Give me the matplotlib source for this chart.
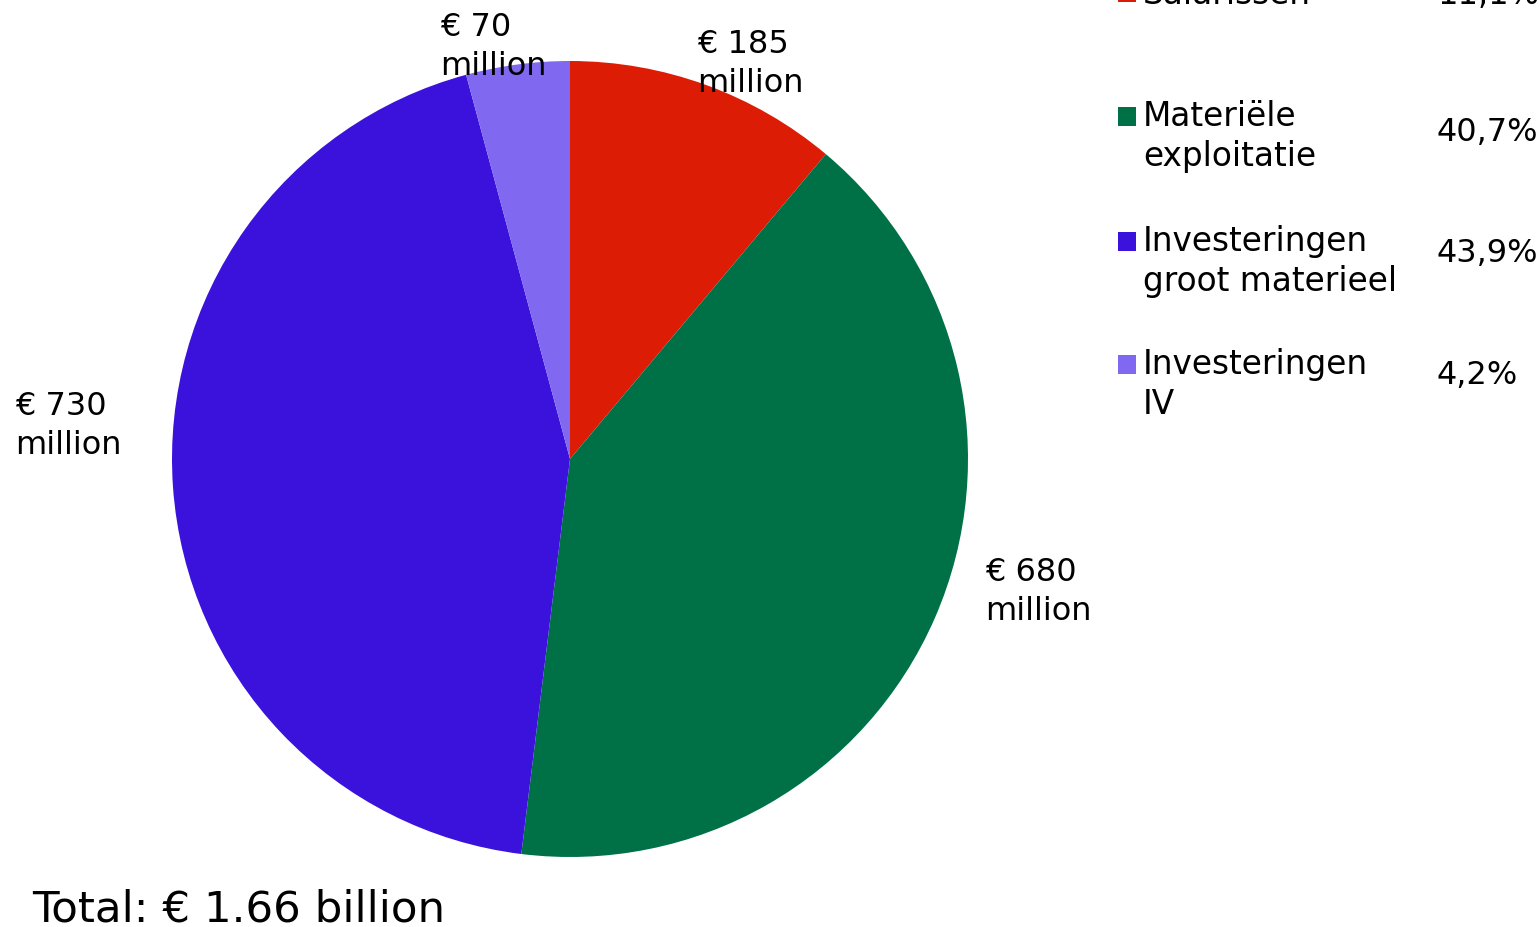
import matplotlib
matplotlib.use('Agg')
import matplotlib.pyplot as plt
from matplotlib.patches import Rectangle

# data
categories = ['Salarissen', 'Materiële\nexploitatie', 'Investeringen\ngroot materieel', 'Investeringen\nIV']
values = [185, 680, 730, 70]          # € million
legend_pcts = ['11,1%', '40,7%', '43,9%', '4,2%']
value_labels = ['€ 185\nmillion', '€ 680\nmillion', '€ 730\nmillion', '€ 70\nmillion']
colors = ['#DD1C05', '#007047', '#3A12DC', '#8068F0']
total_label = 'Total: € 1.66 billion'

W, H = 1540, 928
plt.rcParams['font.family'] = ['DejaVu Sans']
fig = plt.figure(figsize=(W / 100, H / 100), dpi=100)

# pie centred at (570, 460) px, radius ~398 px
cx, cy, r = 570, 460, 398
ax = fig.add_axes([(cx - r) / W, (H - cy - r) / H, 2 * r / W, 2 * r / H])
ax.pie(values, colors=colors, startangle=90, counterclock=False,
       radius=1, wedgeprops=dict(linewidth=0))
ax.set_xlim(-1, 1)
ax.set_ylim(-1, 1)
ax.set_aspect('equal')
ax.axis('off')

def px(x, y):
    return x / W, 1 - y / H

# slice value labels (left, baseline of last line in px)
label_pos = [(697, 92), (985, 620), (15, 454), (440, 75)]
for txt, (x, y) in zip(value_labels, label_pos):
    fig.text(*px(x, y), txt, fontsize=23, ha='left', va='baseline',
             linespacing=1.33, color='black')

fig.text(*px(32, 922), total_label, fontsize=31.3, ha='left', va='baseline')

# manual legend
first_base = [4, 128, 253, 376]
last_base = [4, 166, 291, 414]
pct_base = [4, 141, 262, 384]
for cat, pct, col, y1, y2, yp in zip(categories, legend_pcts, colors,
                                     first_base, last_base, pct_base):
    x0, y0 = px(1118, y1 - 1)
    fig.patches.append(Rectangle((x0, y0), 18 / W, 19 / H, transform=fig.transFigure,
                                 facecolor=col, edgecolor='none'))
    fig.text(*px(1143, y2), cat, fontsize=23.6, ha='left', va='baseline', linespacing=1.25)
    fig.text(*px(1437, yp), pct, fontsize=23, ha='left', va='baseline')

fig.savefig('out.png', dpi=100)
